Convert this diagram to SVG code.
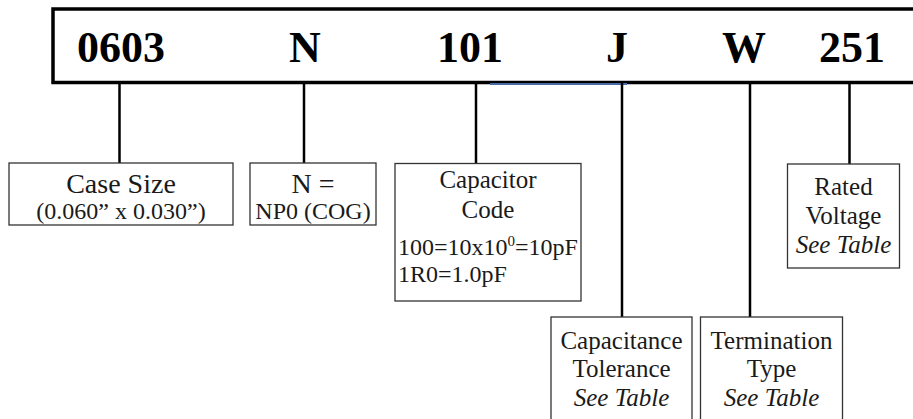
<svg xmlns="http://www.w3.org/2000/svg" width="913" height="419" viewBox="0 0 913 419">
<style>
.code{font-family:"Liberation Serif","Times New Roman",serif;font-weight:bold;font-size:44px;fill:#000;text-anchor:middle}
.box{fill:#fff;stroke:#333;stroke-width:1.3}
.t{font-family:"Liberation Serif","Times New Roman",serif;fill:#1a1a1a;text-anchor:middle}
.left{text-anchor:start}
.l{font-size:25px}
.s{font-size:24px}
.it{font-style:italic}
.conn line{stroke:#000;stroke-width:2.5}
</style>
<rect width="913" height="419" fill="#fff"/>
<g id="part-number">
<rect x="53" y="9" width="880" height="73.5" fill="#fff" stroke="#000" stroke-width="3.5"/>
<line x1="490" y1="84" x2="627" y2="84" stroke="#4a6aa5" stroke-width="1.8"/>
<text class="code" x="121" y="62">0603</text>
<text class="code" x="305" y="62">N</text>
<text class="code" x="470" y="62">101</text>
<text class="code" x="617" y="62">J</text>
<text class="code" x="744" y="62">W</text>
<text class="code" x="852" y="62">251</text>
</g>
<g id="connectors" class="conn">
<line x1="119.5" y1="83" x2="119.5" y2="163"/>
<line x1="304" y1="83" x2="304" y2="163"/>
<line x1="476" y1="83" x2="476" y2="163"/>
<line x1="622" y1="83" x2="622" y2="317"/>
<line x1="750" y1="83" x2="750" y2="317"/>
<line x1="849.5" y1="83" x2="849.5" y2="164"/>
</g>
<g id="case-size">
<rect class="box" x="9" y="163" width="224" height="62"/>
<text class="t" x="121" y="193" font-size="28">Case Size</text>
<text class="t s" x="121" y="219">(0.060” x 0.030”)</text>
</g>
<g id="dielectric">
<rect class="box" x="250" y="163" width="126" height="62"/>
<text class="t" x="313" y="193" font-size="28">N =</text>
<text class="t s" x="313" y="219">NP0 (COG)</text>
</g>
<g id="capacitor-code">
<rect class="box" x="395" y="163.5" width="186" height="137.5"/>
<text class="t l" x="488" y="188">Capacitor</text>
<text class="t l" x="488" y="218">Code</text>
<text class="t s left" x="398" y="255">100=10x10<tspan font-size="15" dy="-9">0</tspan><tspan dy="9">=10pF</tspan></text>
<text class="t s left" x="398" y="282">1R0=1.0pF</text>
</g>
<g id="tolerance">
<rect class="box" x="551" y="317" width="141" height="120"/>
<text class="t l" x="621.5" y="349">Capacitance</text>
<text class="t l" x="621.5" y="377">Tolerance</text>
<text class="t l it" x="621.5" y="406">See Table</text>
</g>
<g id="termination">
<rect class="box" x="700.5" y="317" width="142" height="120"/>
<text class="t l" x="771.5" y="349">Termination</text>
<text class="t l" x="771.5" y="377">Type</text>
<text class="t l it" x="771.5" y="406">See Table</text>
</g>
<g id="rated-voltage">
<rect class="box" x="787.5" y="164" width="112" height="104"/>
<text class="t l" x="843.5" y="195">Rated</text>
<text class="t l" x="843.5" y="224">Voltage</text>
<text class="t l it" x="843.5" y="253">See Table</text>
</g>
</svg>
